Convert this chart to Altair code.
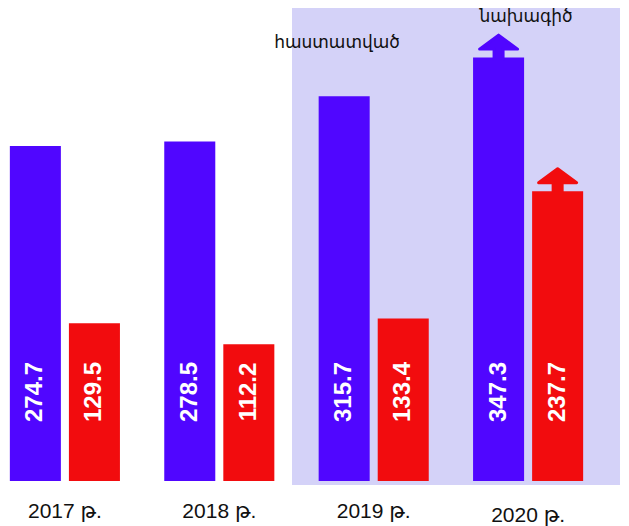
import altair as alt
import pandas as pd

# ---- data ----
years = ["2017 թ.", "2018 թ.", "2019 թ.", "2020 թ."]
series = ["Ա", "Բ"]
purple_values = [274.7, 278.5, 315.7, 347.3]
red_values = [129.5, 112.2, 133.4, 237.7]
approved_label = "հաստատված"
draft_label = "նախագիծ"
arrow_year = "2020 թ."

PURPLE = "#5006ff"
RED = "#f20c0e"
LAVENDER = "#d4d2f8"

rows = []
for y, p, r in zip(years, purple_values, red_values):
    rows.append({"year": y, "series": series[0], "value": p, "label": f"{p:.1f}"})
    rows.append({"year": y, "series": series[1], "value": r, "label": f"{r:.1f}"})
df = pd.DataFrame(rows)
years_df = pd.DataFrame({"year": years})

x_enc = alt.X("year:N", sort=years, axis=None,
              scale=alt.Scale(paddingInner=0.287, paddingOuter=0.012))
xoff_enc = alt.XOffset("series:N", sort=series,
                       scale=alt.Scale(paddingInner=0.136, paddingOuter=0))
y_enc = alt.Y("value:Q", axis=None, scale=alt.Scale(domain=[0, 388], nice=False))
color_enc = alt.Color("series:N", sort=series, legend=None,
                      scale=alt.Scale(domain=series, range=[PURPLE, RED]))

highlight = alt.Chart(pd.DataFrame({"a": [0]})).mark_rect(
    color=LAVENDER, opacity=1
).encode(
    x=alt.value(284), x2=alt.value(612), y=alt.value(-3), y2=alt.value(477)
)

bars = alt.Chart(df).mark_bar().encode(
    x=x_enc, xOffset=xoff_enc, y=y_enc, color=color_enc
)

arrow_path = "M-0.225,0.1 L-0.225,-0.425 L-0.95,-0.425 L0,-1.125 L0.95,-0.425 L0.225,-0.425 L0.225,0.1 Z"
arrows = alt.Chart(df).transform_filter(
    alt.datum.year == arrow_year
).mark_point(
    shape=arrow_path, size=1600, filled=True, strokeWidth=3,
    strokeJoin="round", opacity=1
).encode(
    x=x_enc, xOffset=xoff_enc, y=y_enc, color=color_enc,
    stroke=alt.Stroke("series:N", sort=series, legend=None,
                      scale=alt.Scale(domain=series, range=[PURPLE, RED]))
)

value_text = alt.Chart(df).mark_text(
    angle=270, align="center", baseline="middle", color="white",
    font="Liberation Sans", fontSize=24, fontWeight="bold"
).encode(
    x=x_enc, xOffset=xoff_enc, y=alt.value(384), text="label:N"
)

year_text = alt.Chart(years_df).transform_filter(
    alt.datum.year != arrow_year
).mark_text(
    align="center", baseline="alphabetic", color="#111111",
    font="Liberation Sans, DejaVu Sans", fontSize=21
).encode(x=x_enc, y=alt.value(510), text="year:N")

year_text_last = alt.Chart(years_df).transform_filter(
    alt.datum.year == arrow_year
).mark_text(
    align="center", baseline="alphabetic", color="#111111",
    font="Liberation Sans, DejaVu Sans", fontSize=21
).encode(x=x_enc, y=alt.value(514), text="year:N")

ann = alt.Chart(pd.DataFrame({"t": [approved_label, draft_label],
                              "px": [329, 518], "py": [40, 14]})).mark_text(
    align="center", baseline="alphabetic", color="#111111",
    font="Liberation Sans, DejaVu Sans", fontSize=17
).encode(
    x=alt.X("px:Q", scale=None, axis=None),
    y=alt.Y("py:Q", scale=None, axis=None),
    text="t:N"
)

chart = alt.layer(
    highlight, bars, arrows, value_text, year_text, year_text_last, ann
).properties(
    width=577, height=473,
    autosize=alt.AutoSizeParams(type="none"),
    padding={"left": 0, "top": 0, "right": 36, "bottom": 45},
    background="white"
).configure_view(stroke=None)

chart.save("out.html", embed_options={"renderer": "svg", "actions": False})
